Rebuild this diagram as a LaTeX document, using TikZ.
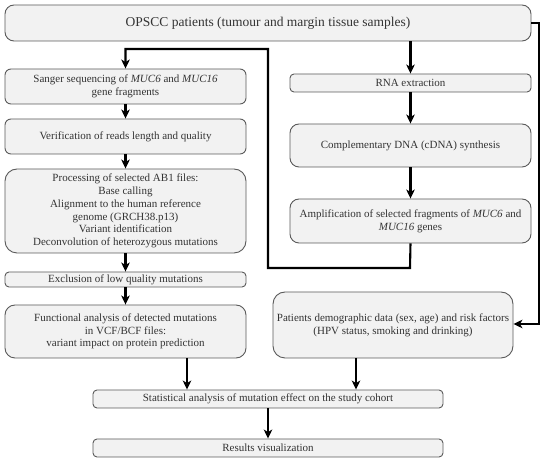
\documentclass[tikz,border=0pt]{standalone}
\usepackage{fontspec}
\setmainfont{Liberation Serif}
\usetikzlibrary{arrows.meta}
\definecolor{boxfill}{HTML}{F2F2F2}
\definecolor{boxline}{HTML}{5A5A5A}
\definecolor{txt}{HTML}{333333}
\tikzset{
  box/.style={draw=boxline, line width=0.9pt, fill=boxfill, rounded corners=4pt,
    inner sep=0pt, align=center, text=txt, font=\fontsize{11}{12.8}\selectfont},
  flow/.style={line width=2.1pt, black, -{Stealth[length=9pt,width=8.5pt,inset=2.5pt]}}
}
\begin{document}
\begin{tikzpicture}[x=1pt,y=-1pt]
\useasboundingbox (0,0) rectangle (550,462);
% top
\node[box, rounded corners=9pt, minimum width=526pt, minimum height=36pt, font=\fontsize{13.5}{16}\selectfont] (opscc) at (268,23) {OPSCC patients (tumour and margin tissue samples)};
% left column
\node[box, minimum width=241pt, minimum height=35pt, rounded corners=6pt] (sanger) at (125.5,86.5) {Sanger sequencing of \textit{MUC6} and \textit{MUC16}\\gene fragments};
\node[box, minimum width=241pt, minimum height=35pt, rounded corners=6pt] (verif) at (125.5,136.5) {Verification of reads length and quality};
\node[box, minimum width=241pt, minimum height=84pt, rounded corners=12pt] (proc) at (125.5,211) {Processing of selected AB1 files:\\Base calling\\Alignment to the human reference\\genome (GRCH38.p13)\\Variant identification\\Deconvolution of heterozygous mutations};
\node[box, minimum width=241pt, minimum height=15pt] (excl) at (125.5,279.5) {Exclusion of low quality mutations};
\node[box, minimum width=241pt, minimum height=53pt, rounded corners=10pt] (func) at (125.5,331.5) {Functional analysis of detected mutations\\in VCF/BCF files:\\variant impact on protein prediction};
% right column
\node[box, minimum width=241pt, minimum height=18pt] (rna) at (410.5,83) {RNA extraction};
\node[box, minimum width=241pt, minimum height=43pt, rounded corners=9pt] (cdna) at (410.5,145.5) {Complementary DNA (cDNA) synthesis};
\node[box, minimum width=241pt, minimum height=44pt, rounded corners=9pt] (amp) at (410.5,221) {Amplification of selected fragments of \textit{MUC6} and\\\textit{MUC16} genes};
\node[box, minimum width=240pt, minimum height=66pt, rounded corners=12pt] (pat) at (393,325) {Patients demographic data (sex, age) and risk factors\\(HPV status, smoking and drinking)};
% bottom
\node[box, minimum width=350pt, minimum height=18pt] (stat) at (268,399) {Statistical analysis of mutation effect on the study cohort};
\node[box, minimum width=350pt, minimum height=18pt] (res) at (268,448) {Results visualization};
% helper coordinates
\coordinate (a1) at (410,268);
\coordinate (a2) at (268,268);
\coordinate (a3) at (268,49);
\coordinate (a4) at (125.5,49);
\coordinate (r1) at (539,23);
\coordinate (r2) at (539,324);
\coordinate (f1) at (187,358);
\coordinate (p1) at (356,358);
% connectors
\draw[flow] (opscc.south -| rna.north) -- (rna.north);
\draw[flow] (rna.south) -- (cdna.north);
\draw[flow] (cdna.south) -- (amp.north);
\draw[flow] (amp.south) -- (a1) -- (a2) -- (a3) -- (a4) -- (sanger.north);
\draw[flow] (sanger.south) -- (verif.north);
\draw[flow] (verif.south) -- (proc.north);
\draw[flow] (proc.south) -- (excl.north);
\draw[flow] (excl.south) -- (func.north);
\draw[flow] (opscc.east |- r1) -- (r1) -- (r2) -- (pat.east |- r2);
\draw[flow] (f1) -- (stat.north -| f1);
\draw[flow] (p1) -- (stat.north -| p1);
\draw[flow] (stat.south) -- (res.north);
\end{tikzpicture}
\end{document}
